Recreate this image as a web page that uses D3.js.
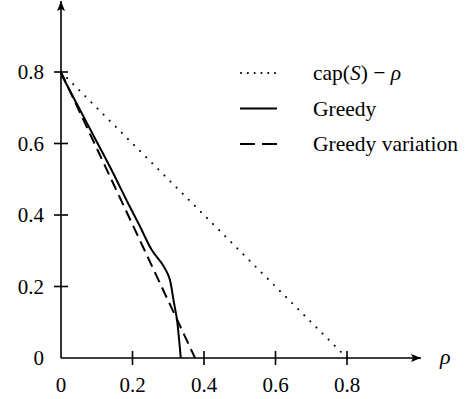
<!DOCTYPE html>
<html>
<head>
<meta charset="utf-8">
<script src="https://cdn.jsdelivr.net/npm/d3@7"></script>
<style>
  body { margin: 0; background: #fff; }
</style>
</head>
<body>
<svg id="chart" width="470" height="399"></svg>
<script>
// data
const xTicks = [0, 0.2, 0.4, 0.6, 0.8];
const yTicks = [0, 0.2, 0.4, 0.6, 0.8];
const capLine = [[0, 0.8], [0.8, 0]];
const greedy = [
  [0, 0.795], [0.05, 0.7], [0.1, 0.605], [0.146, 0.517], [0.184, 0.44],
  [0.22, 0.37], [0.254, 0.302], [0.285, 0.26], [0.303, 0.224],
  [0.315, 0.16], [0.324, 0.11], [0.33, 0.055], [0.335, 0]
];
const greedyVar = [[0, 0.8], [0.375, 0]];
const legendLabels = ["cap", "Greedy", "Greedy variation"];

const serif = "Liberation Serif";
const svg = d3.select("svg#chart");
const x0 = 61, y0 = 358;

const xScale = d3.scaleLinear().domain([0, 0.8]).range([x0, 347]);
const yScale = d3.scaleLinear().domain([0, 0.8]).range([y0, 72]);

svg.append("defs")
  .append("marker")
  .attr("id", "arrow")
  .attr("viewBox", "0 -5 10 10")
  .attr("refX", 10)
  .attr("refY", 0)
  .attr("markerWidth", 10)
  .attr("markerHeight", 10)
  .attr("markerUnits", "userSpaceOnUse")
  .attr("orient", "auto")
  .append("path")
  .attr("d", "M0,-4L10,0L0,4L2,0Z")
  .attr("fill", "#000");

// axes lines with arrows
svg.append("line")
  .attr("x1", x0).attr("y1", y0).attr("x2", 421).attr("y2", y0)
  .attr("stroke", "#000").attr("stroke-width", 1.6)
  .attr("marker-end", "url(#arrow)");
svg.append("line")
  .attr("x1", x0).attr("y1", y0).attr("x2", x0).attr("y2", 1)
  .attr("stroke", "#000").attr("stroke-width", 1.6)
  .attr("marker-end", "url(#arrow)");

// ticks
svg.selectAll("line.xtick")
  .data(xTicks.slice(1))
  .join("line")
  .attr("class", "xtick")
  .attr("x1", (d) => xScale(d)).attr("x2", (d) => xScale(d))
  .attr("y1", y0 - 7).attr("y2", y0 + 7)
  .attr("stroke", "#000").attr("stroke-width", 1.6);
svg.selectAll("line.ytick")
  .data(yTicks.slice(1))
  .join("line")
  .attr("class", "ytick")
  .attr("y1", (d) => yScale(d)).attr("y2", (d) => yScale(d))
  .attr("x1", x0 - 7).attr("x2", x0 + 7)
  .attr("stroke", "#000").attr("stroke-width", 1.6);

svg.selectAll("text.xlab")
  .data(xTicks)
  .join("text")
  .attr("class", "xlab")
  .attr("font-family", serif)
  .attr("x", (d) => xScale(d))
  .attr("y", 392)
  .attr("text-anchor", "middle")
  .attr("font-size", 21)
  .text((d) => d === 0 ? "0" : d3.format(".1f")(d));
svg.selectAll("text.ylab")
  .data(yTicks)
  .join("text")
  .attr("class", "ylab")
  .attr("font-family", serif)
  .attr("x", 44)
  .attr("y", (d) => yScale(d) + 7)
  .attr("text-anchor", "end")
  .attr("font-size", 21)
  .text((d) => d === 0 ? "0" : d3.format(".1f")(d));

svg.append("text")
  .attr("font-family", serif)
  .attr("x", 440).attr("y", 364)
  .attr("font-size", 22).attr("font-style", "italic")
  .text("ρ");

const line = d3.line().x((d) => xScale(d[0])).y((d) => yScale(d[1]));

// dotted reference line cap(S) - rho
svg.append("path")
  .datum(capLine)
  .attr("d", line)
  .attr("fill", "none").attr("stroke", "#000")
  .attr("stroke-width", 2).attr("stroke-linecap", "round")
  .attr("stroke-dasharray", "0.1,8.5");

svg.append("path")
  .datum(greedyVar)
  .attr("d", line)
  .attr("fill", "none").attr("stroke", "#000")
  .attr("stroke-width", 2).attr("stroke-dasharray", "11,6");

svg.append("path")
  .datum(greedy)
  .attr("d", line.curve(d3.curveCatmullRom))
  .attr("fill", "none").attr("stroke", "#000")
  .attr("stroke-width", 2);

// legend
const legend = svg.append("g").attr("transform", "translate(240, 73)");
legendLabels.forEach((label, i) => {
  legend.append("line")
    .attr("x1", i === 0 ? 1 : 0).attr("x2", 37)
    .attr("y1", i * 35.5).attr("y2", i * 35.5)
    .attr("stroke", "#000")
    .attr("stroke-width", 2)
    .attr("stroke-linecap", i === 0 ? "round" : "butt")
    .attr("stroke-dasharray", i === 0 ? "0.1,6.7" : i === 2 ? "15,7" : null);
  const t = legend.append("text")
    .attr("font-family", serif)
    .attr("x", 73)
    .attr("y", i * 35.5 + 7)
    .attr("font-size", 21.5);
  if (i === 0) {
    t.append("tspan").text("cap(");
    t.append("tspan").attr("font-style", "italic").text("S");
    t.append("tspan").text(") \u2212 ");
    t.append("tspan").attr("font-style", "italic").text("ρ");
  } else {
    t.text(label);
  }
});
</script>
</body>
</html>
